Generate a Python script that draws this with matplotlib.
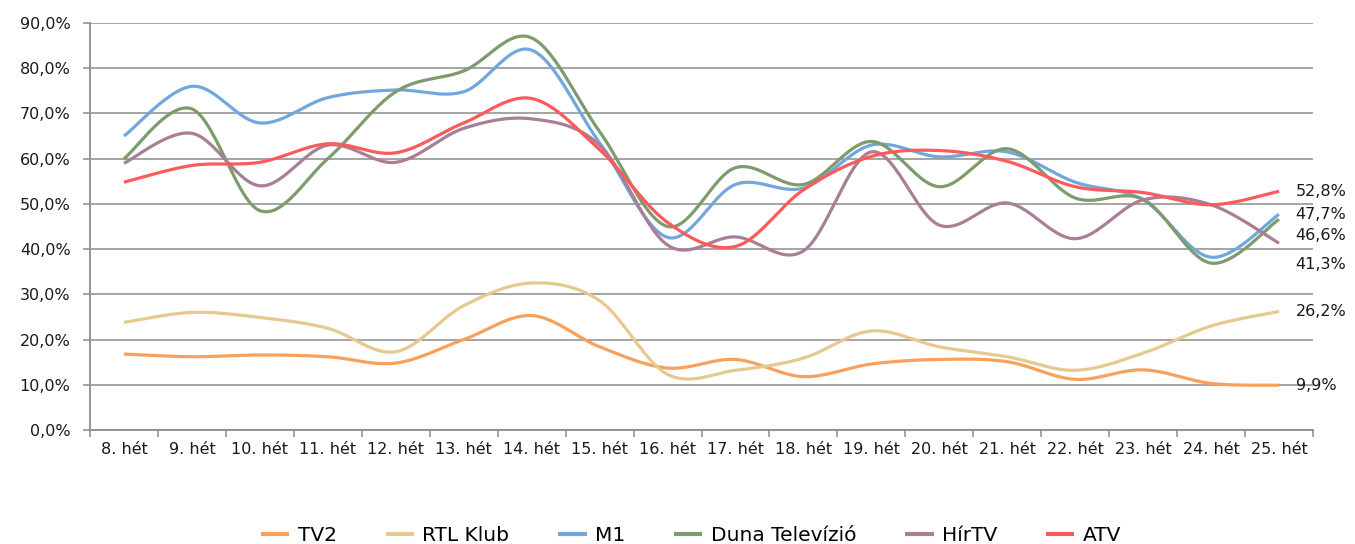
import numpy as np
import matplotlib
matplotlib.use("Agg")
import matplotlib.pyplot as plt
from matplotlib.ticker import FuncFormatter, FixedLocator

weeks = ["8. hét", "9. hét", "10. hét", "11. hét", "12. hét", "13. hét", "14. hét",
         "15. hét", "16. hét", "17. hét", "18. hét", "19. hét", "20. hét", "21. hét",
         "22. hét", "23. hét", "24. hét", "25. hét"]

tv2 = [16.8, 16.2, 16.6, 16.2, 14.8, 20.0, 25.3, 18.4, 13.7, 15.6, 11.8, 14.6, 15.6, 15.1, 11.2, 13.3, 10.3, 9.9]
rtl = [23.8, 26.0, 24.9, 22.5, 17.3, 27.5, 32.5, 28.6, 12.3, 13.2, 15.9, 21.9, 18.4, 16.2, 13.2, 17.0, 23.0, 26.2]
m1 = [65.0, 76.0, 67.9, 73.5, 75.2, 74.8, 84.0, 63.5, 42.6, 54.3, 53.5, 63.0, 60.4, 61.5, 54.8, 50.9, 38.2, 47.7]
duna = [60.0, 71.0, 48.5, 60.0, 74.8, 79.4, 86.7, 66.0, 45.0, 58.0, 54.3, 63.8, 53.8, 62.2, 51.3, 51.0, 36.9, 46.6]
hirtv = [59.0, 65.6, 54.0, 63.0, 59.2, 66.7, 68.8, 63.0, 40.9, 42.7, 39.6, 61.5, 45.3, 50.2, 42.3, 50.9, 49.8, 41.3]
atv = [54.8, 58.5, 59.2, 63.3, 61.3, 67.9, 73.3, 62.0, 45.9, 40.6, 53.1, 60.5, 61.8, 59.4, 53.8, 52.5, 49.8, 52.8]

series = [("TV2", tv2, "#F9A05A"),
          ("RTL Klub", rtl, "#E5C98E"),
          ("M1", m1, "#72A7DC"),
          ("Duna Televízió", duna, "#7D9B6C"),
          ("HírTV", hirtv, "#A97E97"),
          ("ATV", atv, "#FE5A5C")]


def smooth(xs, ys, n=30):
    xs = np.asarray(xs, float)
    ys = np.asarray(ys, float)
    P = np.column_stack([xs, ys])
    out = [P[0]]
    m = len(P)
    for i in range(m - 1):
        p0 = P[i - 1] if i > 0 else P[i]
        p1 = P[i]
        p2 = P[i + 1]
        p3 = P[i + 2] if i + 2 < m else P[i + 1]
        c1 = p1 + (p2 - p0) / 6.0
        c2 = p2 - (p3 - p1) / 6.0
        t = np.linspace(0, 1, n)[1:, None]
        seg = ((1 - t) ** 3) * p1 + 3 * ((1 - t) ** 2) * t * c1 + 3 * (1 - t) * t ** 2 * c2 + t ** 3 * p2
        out.extend(seg)
    out = np.array(out)
    return out[:, 0], out[:, 1]


fig = plt.figure(figsize=(13.55, 5.44), dpi=100)
ax = fig.add_axes([90 / 1355, 1 - 430 / 544, (1313 - 90) / 1355, (430 - 23) / 544])

x = np.arange(len(weeks))
handles = []
for name, vals, col in series:
    sx, sy = smooth(x, vals)
    h, = ax.plot(sx, sy, color=col, lw=2.3, solid_capstyle="butt", label=name)
    handles.append(h)

ax.set_xlim(-0.5, len(weeks) - 0.5)
ax.set_ylim(0, 90)
ax.set_yticks(np.arange(0, 91, 10))
ax.yaxis.set_major_formatter(FuncFormatter(lambda v, p: f"{v:.1f}%".replace(".", ",")))
ax.grid(axis="y", color="#8C8C8C", lw=1.1)
ax.set_axisbelow(True)

ax.xaxis.set_major_locator(FixedLocator(np.arange(len(weeks) + 1) - 0.5))
ax.xaxis.set_minor_locator(FixedLocator(x))
ax.set_xticklabels([])
ax.set_xticklabels(weeks, minor=True)
ax.tick_params(axis="x", which="major", length=5, width=1.1, color="#8C8C8C", direction="out")
ax.tick_params(axis="x", which="minor", length=0, pad=9, labelsize=11.5, labelcolor="#1a1a1a")
ax.tick_params(axis="y", length=5, width=1.1, color="#8C8C8C", pad=9, labelsize=11.5, labelcolor="#1a1a1a")

for s in ["top", "right"]:
    ax.spines[s].set_visible(False)
for s in ["left", "bottom"]:
    ax.spines[s].set_color("#8C8C8C")
    ax.spines[s].set_linewidth(1.3)

# end labels (vertical offsets in points to avoid overlap)
offsets = {"TV2": 0, "RTL Klub": 0, "M1": 0, "Duna Televízió": -12, "HírTV": -15, "ATV": 0}
for name, vals, col in series:
    ax.annotate(f"{vals[-1]:.1f}%".replace(".", ","), xy=(x[-1], vals[-1]),
                xytext=(12, offsets[name]), textcoords="offset points",
                va="center", ha="left", fontsize=11.5, color="#1a1a1a",
                annotation_clip=False)

leg = fig.legend(handles=handles, loc="center", bbox_to_anchor=(0.51, 0.016), ncol=6,
                 frameon=False, handlelength=1.4, handletextpad=0.4, columnspacing=2.45,
                 prop={"family": "DejaVu Sans", "size": 14.5})
for line in leg.get_lines():
    line.set_linewidth(3)

fig.savefig("out.png", dpi=100)
